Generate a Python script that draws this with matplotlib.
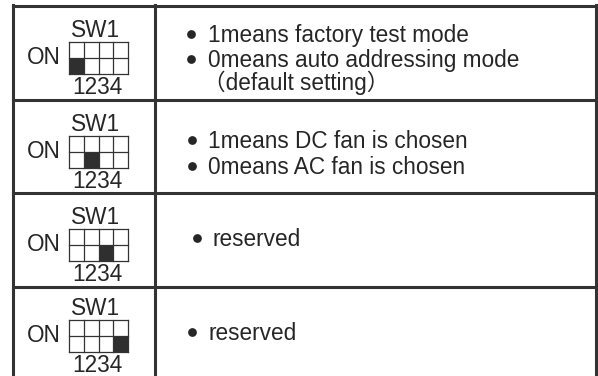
import matplotlib
matplotlib.use("Agg")
import matplotlib.pyplot as plt
from matplotlib.patches import Rectangle

# data: which DIP switch is on in each row, and the notes beside it
switch_label = "SW1"
on_label = "ON"
position_labels = "1234"
switch_on = [0, 1, 2, 3]
notes = [
    ["1means factory test mode", "0means auto addressing mode", "（default setting）"],
    ["1means DC fan is chosen", "0means AC fan is chosen"],
    ["reserved"],
    ["reserved"],
]
bulleted = [
    [True, True, False],
    [True, True],
    [True],
    [True],
]

# layout (pixels)
W, H = 598, 376
row_tops = [6, 100, 193, 287]
left_shift = [0, 0, 0, -3]
row_bottom = 380
x_left, x_mid, x_right = 12.5, 154.5, 596
note_baselines = [[42, 67, 90], [148, 174], [246], [340]]
bullet_x = [191, 192, 197, 192]
text_x = [208, 208, 212, 208]

line_col = "#333333"
text_col = "#262626"
fam = ["Liberation Sans", "Noto Sans CJK SC"]
fs = 16.3

fig = plt.figure(figsize=(W / 100, H / 100), dpi=100)
ax = fig.add_axes([0, 0, 1, 1])
ax.set_xlim(0, W)
ax.set_ylim(H, 0)
ax.axis("off")

# table frame
ax.plot([x_left, x_right], [row_tops[0], row_tops[0]], color=line_col, lw=2.2)
for t in row_tops[1:]:
    ax.plot([x_left, x_right], [t, t], color=line_col, lw=2.2)
for x in (x_left, x_mid, x_right):
    ax.plot([x, x], [row_tops[0] - 1, row_bottom], color=line_col, lw=2.2)

gx0, gx1 = 69, 128
cw = (gx1 - gx0) / 4
for r, top in enumerate(row_tops):
    t = top + left_shift[r]
    # DIP switch drawing
    ax.text(96, t + 31, switch_label, family=fam, fontsize=fs, color=text_col,
            ha="center", va="baseline")
    ax.text(43.5, t + 58, on_label, family=fam, fontsize=fs, color=text_col,
            ha="center", va="baseline")
    ax.text(97, t + 88, position_labels, family=fam, fontsize=fs, color=text_col,
            ha="center", va="baseline")
    gy0, gy1 = t + 36, t + 68
    ch = (gy1 - gy0) / 2
    k = switch_on[r]
    ax.add_patch(Rectangle((gx0 + k * cw, gy0 + ch), cw, ch, color="#2f2f2f", lw=0))
    for i in range(5):
        ax.plot([gx0 + i * cw] * 2, [gy0, gy1], color=line_col, lw=0.9)
    for j in range(3):
        ax.plot([gx0, gx1], [gy0 + j * ch] * 2, color=line_col, lw=0.9)

    # notes
    for line, yb, b in zip(notes[r], note_baselines[r], bulleted[r]):
        if b:
            ax.plot([bullet_x[r]], [yb - 8], "o", ms=6.3, color=text_col, mew=0)
            ax.text(text_x[r], yb, line, family=fam, fontsize=fs, color=text_col,
                    ha="left", va="baseline")
        else:
            ax.text(text_x[r] - 5, yb, line, family=fam, fontsize=fs, color=text_col,
                    ha="left", va="baseline")

fig.savefig("out.png", dpi=100, facecolor="white")
